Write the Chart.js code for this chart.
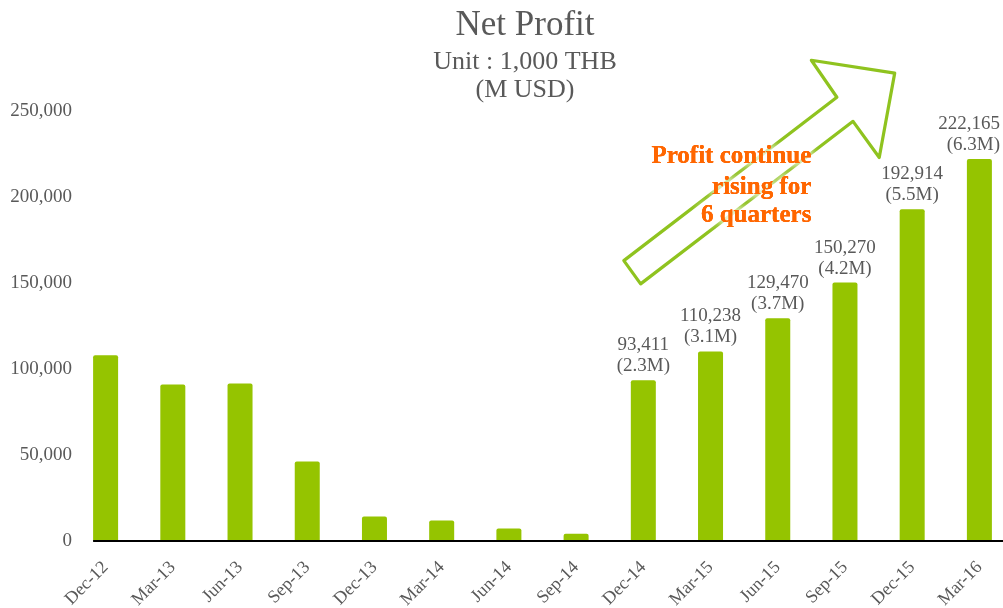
<!DOCTYPE html>
<html>
<head>
<meta charset="utf-8">
<script src="https://cdn.jsdelivr.net/npm/chart.js@4.4.1/dist/chart.umd.min.js"></script>
<style>
  html, body { margin: 0; padding: 0; background: #fff; overflow: hidden; }
  #wrap { width: 1050px; height: 608px; }
</style>
</head>
<body>
<div id="wrap"><canvas id="profitChart" width="1050" height="608"></canvas></div>
<script>
// quarters on the x axis
const quarters = ['Dec-12', 'Mar-13', 'Jun-13', 'Sep-13', 'Dec-13', 'Mar-14', 'Jun-14',
                  'Sep-14', 'Dec-14', 'Mar-15', 'Jun-15', 'Sep-15', 'Dec-15', 'Mar-16'];

// net profit, unit 1,000 THB (first eight)
const netProfit = [108000, 91000, 91600, 46200, 14300, 11900, 7300,
                   4200, 93411, 110238, 129470, 150270, 192914, 222165];

// USD labels shown under the value, only on the rising quarters
const usdLabels = [null, null, null, null, null, null, null,
                   null, '(2.3M)', '(3.1M)', '(3.7M)', '(4.2M)', '(5.5M)', '(6.3M)'];

const yTicks = [0, 50000, 100000, 150000, 200000, 250000];

const titleText = 'Net Profit';
const subtitleLines = ['Unit : 1,000 THB', '(M USD)'];
const noteLines = ['Profit continue', 'rising for', '6 quarters'];

const serif = '"Liberation Serif", "Times New Roman", serif';
const grey = '#595959';

// title block, centred on the whole picture
const titleBlock = {
    id: 'titleBlock',
    afterDraw(chart) {
        const ctx = chart.ctx;
        const cx = chart.width / 2;
        ctx.save();
        ctx.fillStyle = grey;
        ctx.textAlign = 'center';
        ctx.textBaseline = 'alphabetic';
        ctx.font = '35px ' + serif;
        ctx.fillText(titleText, cx, 35);
        ctx.font = '26px ' + serif;
        subtitleLines.forEach((t, i) => ctx.fillText(t, cx, 69 + i * 28));
        ctx.restore();
    }
};

// labels above bars + black base line
const valueLabels = {
    id: 'valueLabels',
    afterDatasetsDraw(chart) {
        const ctx = chart.ctx;
        const meta = chart.getDatasetMeta(0);
        const yScale = chart.scales.y;
        ctx.save();

        const first = meta.data[0];
        const y0 = yScale.getPixelForValue(0);
        ctx.beginPath();
        ctx.moveTo(first.x - first.width / 2, y0);
        ctx.lineTo(chart.chartArea.right, y0);
        ctx.lineWidth = 2;
        ctx.strokeStyle = '#000';
        ctx.stroke();

        ctx.font = '19px ' + serif;
        ctx.fillStyle = grey;
        ctx.textAlign = 'center';
        ctx.textBaseline = 'alphabetic';
        meta.data.forEach((bar, i) => {
            if (!usdLabels[i]) return;
            const lines = [netProfit[i].toLocaleString('en-US'), usdLabels[i]];
            lines.forEach((t, k) => {
                const w = ctx.measureText(t).width;
                let cx = bar.x;
                if (cx + w / 2 > 1000) cx = 1000 - w / 2;
                ctx.fillText(t, cx, bar.y - 9 - (1 - k) * 21);
            });
        });
        ctx.restore();
    }
};

// hollow arrow and the orange note
const risingNote = {
    id: 'risingNote',
    afterDatasetsDraw(chart) {
        const ctx = chart.ctx;
        const x = chart.scales.x;
        const y = chart.scales.y;
        // arrow outline in (category index, value) space
        const arrow = [[7.71, 163000], [7.96, 149500], [11.12, 244000], [11.51, 223000],
                       [11.74, 272000], [10.50, 279500], [10.88, 258000]];
        ctx.save();
        ctx.beginPath();
        arrow.forEach((p, i) => {
            const px = x.getPixelForValue(p[0]);
            const py = y.getPixelForValue(p[1]);
            if (i === 0) ctx.moveTo(px, py); else ctx.lineTo(px, py);
        });
        ctx.closePath();
        ctx.lineWidth = 3.2;
        ctx.lineJoin = 'round';
        ctx.strokeStyle = '#8fc31f';
        ctx.stroke();

        ctx.font = 'bold 25px ' + serif;
        ctx.textAlign = 'right';
        ctx.textBaseline = 'alphabetic';
        const rx = x.getPixelForValue(10.5);
        const baseVals = [219500, 202000, 185200];
        ctx.fillStyle = '#ff6600';
        // white glow that hides the arrow behind the words
        ctx.shadowColor = '#fff';
        ctx.shadowBlur = 10;
        for (let pass = 0; pass < 3; pass++) {
            noteLines.forEach((t, i) => ctx.fillText(t, rx, y.getPixelForValue(baseVals[i])));
        }
        ctx.shadowBlur = 0;
        ctx.shadowColor = 'transparent';
        noteLines.forEach((t, i) => ctx.fillText(t, rx, y.getPixelForValue(baseVals[i])));
        ctx.restore();
    }
};

const ctxBar = document.getElementById('profitChart').getContext('2d');
const profitChart = new Chart(ctxBar, {
    type: 'bar',
    data: {
        labels: quarters,
        datasets: [{
            label: 'Net Profit',
            data: netProfit,
            backgroundColor: '#95c400',
            borderWidth: 0,
            borderRadius: { topLeft: 2, topRight: 2 },
            borderSkipped: 'start',
            barPercentage: 0.372,
            categoryPercentage: 1,
        }],
    },
    options: {
        responsive: false,
        animation: false,
        devicePixelRatio: 1,
        layout: { padding: { left: 0, right: 37, top: 111, bottom: 0 } },
        scales: {
            x: {
                grid: { display: false, drawTicks: false },
                border: { display: false },
                ticks: {
                    color: grey,
                    font: { family: serif, size: 18 },
                    minRotation: 45,
                    maxRotation: 45,
                    autoSkip: false,
                    padding: 16,
                },
                afterFit(scale) { scale.height = 67; },
            },
            y: {
                min: 0,
                max: 250000,
                grid: { display: false, drawTicks: false },
                border: { display: false },
                afterBuildTicks(scale) { scale.ticks = yTicks.map(v => ({ value: v })); },
                ticks: {
                    color: grey,
                    font: { family: serif, size: 19 },
                    padding: 0,
                    callback: (v) => v.toLocaleString('en-US'),
                },
                afterFit(scale) { scale.width = 72; },
            },
        },
        plugins: {
            legend: { display: false },
            tooltip: { enabled: false },
            title: { display: false },
        },
    },
    plugins: [valueLabels, risingNote, titleBlock],
});
</script>
</body>
</html>
